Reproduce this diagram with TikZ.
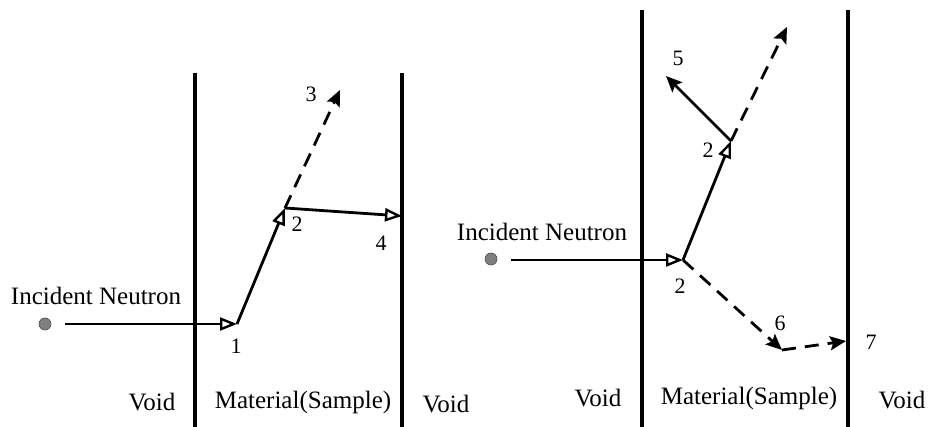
\documentclass[tikz,border=0pt]{standalone}
\usepackage{fontspec}
\setmainfont{Liberation Serif}
\usetikzlibrary{arrows.meta}
\begin{document}
\begin{tikzpicture}[x=1pt,y=-1pt,
  wall/.style={line width=4pt},
  ray/.style={line width=2.8pt},
  openhead/.style={-{Triangle[open,length=17pt,width=13pt,line width=2.4pt]}},
  fullhead/.style={-{Stealth[length=16pt,width=14pt,inset=3pt]}},
  dashray/.style={ray,dash pattern=on 14pt off 9pt},
  dot/.style={circle,fill=gray,draw=black!70,line width=0.6pt,minimum size=12pt,inner sep=0pt},
  lbl/.style={font=\fontsize{25}{30}\selectfont,inner sep=0pt},
  num/.style={font=\fontsize{22}{26}\selectfont,inner sep=0pt}]
\useasboundingbox (0,0) rectangle (930,427);
% ---------- left panel ----------
\coordinate (Lat) at (195,73); \coordinate (Lab) at (195,427);
\coordinate (Lbt) at (402,73); \coordinate (Lbb) at (402,427);
\draw[wall] (Lat) -- (Lab);
\draw[wall] (Lbt) -- (Lbb);
\node[dot] (Ldot) at (45,324) {};
\coordinate (Ls) at (65,324);
\coordinate (Lp1) at (237,324);
\coordinate (Lp2) at (285,208);
\coordinate (Lp3) at (340,90);
\coordinate (Lp4) at (402,216);
\draw[ray,openhead] (Ls) -- (Lp1);
\draw[ray,openhead] (Lp1) -- (Lp2);
\draw[dashray,fullhead] (Lp2) -- (Lp3);
\draw[ray,openhead] (Lp2) -- (Lp4);
\node[num] (L1) at (236,346) {1};
\node[num] (L2) at (297,224) {2};
\node[num] (L3) at (311,94) {3};
\node[num] (L4) at (381,243) {4};
\node[lbl] (Linc) at (96,296) {Incident Neutron};
\node[lbl] (Lv1) at (152,402) {Void};
\node[lbl] (Lmat) at (303,402) {Material(Sample)};
\node[lbl] (Lv2) at (446,404) {Void};
% ---------- right panel ----------
\coordinate (Rat) at (642,10); \coordinate (Rab) at (642,427);
\coordinate (Rbt) at (848,10); \coordinate (Rbb) at (848,427);
\draw[wall] (Rat) -- (Rab);
\draw[wall] (Rbt) -- (Rbb);
\node[dot] (Rdot) at (491,259) {};
\coordinate (Rs) at (511,260);
\coordinate (Rq1) at (683,260);
\coordinate (Rq2) at (731,141);
\coordinate (Rq5) at (666,76);
\coordinate (Rq3) at (787,27);
\coordinate (Rq6) at (782,350);
\coordinate (Rq7) at (846,341);
\draw[ray,openhead] (Rs) -- (Rq1);
\draw[ray,openhead] (Rq1) -- (Rq2);
\draw[ray,fullhead] (Rq2) -- (Rq5);
\draw[dashray,fullhead] (Rq2) -- (Rq3);
\draw[dashray,fullhead] (Rq1) -- (Rq6);
\draw[dashray,fullhead] (Rq6) -- (Rq7);
\node[num] (R2a) at (680,286) {2};
\node[num] (R2b) at (708,150) {2};
\node[num] (R5) at (678,58) {5};
\node[num] (R6) at (780,323) {6};
\node[num] (R7) at (871,342) {7};
\node[lbl] (Rinc) at (542,232) {Incident Neutron};
\node[lbl] (Rv1) at (598,398) {Void};
\node[lbl] (Rmat) at (749,398) {Material(Sample)};
\node[lbl] (Rv2) at (902,400) {Void};
\end{tikzpicture}
\end{document}
